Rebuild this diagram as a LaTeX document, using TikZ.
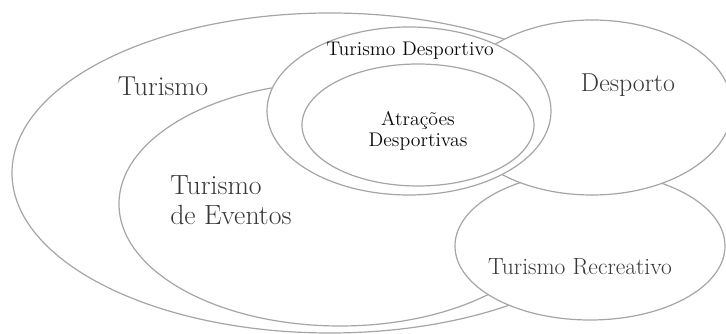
\documentclass[tikz,border=0pt]{standalone}
\usepackage{fontspec}
\usepackage{tikz}

\begin{document}
\begin{tikzpicture}[x=0.75pt,y=0.75pt,yscale=-1,xscale=1,
    venn/.style={draw={rgb,255:red,165;green,165;blue,165},fill=white,line width=0.9},
    grey label/.style={text={rgb,255:red,55;green,55;blue,55},inner sep=0},
    dark label/.style={text={rgb,255:red,10;green,10;blue,10},inner sep=0}]
\useasboundingbox (0,0) rectangle (726,334);
%Shape: Ellipse [Turismo]
\draw [venn] (330,173) ellipse (318 and 160);
%Shape: Ellipse [Turismo de Eventos]
\draw [venn] (340,204) ellipse (221 and 122);
%Shape: Ellipse [Turismo Recreativo]
\draw [venn] (590,246) ellipse (135 and 74);
%Shape: Ellipse [Desporto]
\draw [venn] (592,107.5) ellipse (140 and 87.5);
%Shape: Ellipse [Turismo Desportivo]
\draw [venn] (409,111) ellipse (142 and 84);
%Shape: Ellipse [Atracoes Desportivas]
\draw [venn] (418,125) ellipse (116 and 61);

% Text Nodes
\node [grey label,font=\fontsize{20.5}{24}\selectfont] (turismo) at (163,86) {Turismo};
\node [grey label,font=\fontsize{20.8}{22.5}\selectfont,align=left,anchor=west] (eventos) at (170,200) {Turismo\\de Eventos};
\node [dark label,font=\fontsize{14.8}{15}\selectfont] (desportivo) at (410,51) {Turismo Desportivo};
\node [dark label,font=\fontsize{14.8}{15.5}\selectfont,align=center] (atracoes) at (418,131) {Atrações\\Desportivas};
\node [grey label,font=\fontsize{19.4}{23}\selectfont] (desporto) at (628,85) {Desporto};
\node [grey label,font=\fontsize{17.6}{21}\selectfont] (recreativo) at (580,267) {Turismo Recreativo};
\end{tikzpicture}
\end{document}
